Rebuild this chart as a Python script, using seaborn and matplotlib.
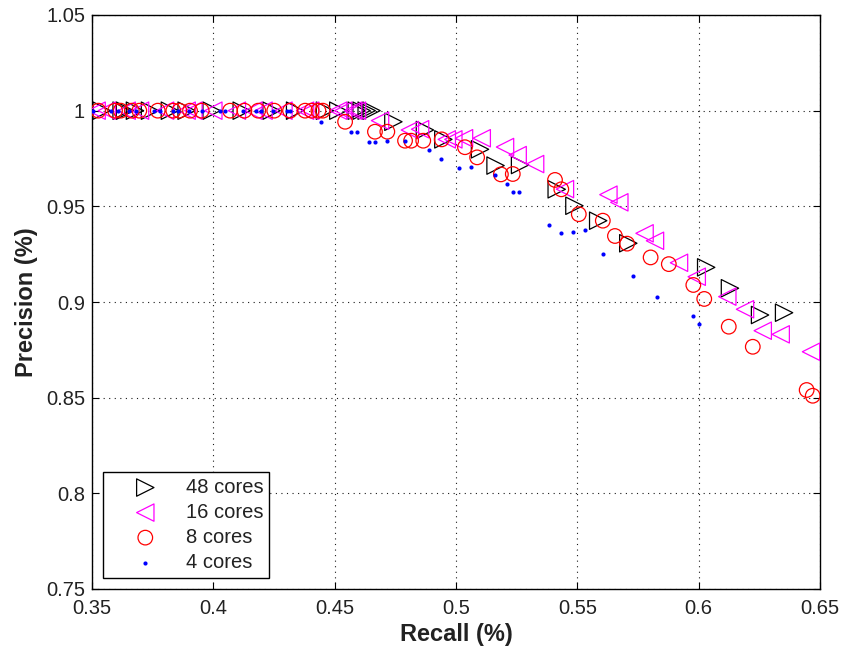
import matplotlib
matplotlib.use("Agg")
import matplotlib.pyplot as plt
import seaborn as sns
import pandas as pd

# ---- data ----
x48 = [0.3540, 0.3622, 0.3636, 0.3677, 0.3739, 0.3821, 0.3890, 0.3993, 0.4117, 0.4240,
       0.4337, 0.4460, 0.4515, 0.4591, 0.4611, 0.4632, 0.4652,
       0.4742, 0.4872, 0.4948, 0.5099, 0.5163, 0.5264, 0.5415, 0.5488, 0.5586, 0.5710,
       0.6031, 0.6129, 0.6253, 0.6352]
y48 = [1.0, 1.0, 1.0, 1.0, 1.0, 1.0, 1.0, 1.0, 1.0, 1.0,
       1.0, 1.0, 1.0, 1.0, 1.0, 1.0, 1.0,
       0.9942, 0.9899, 0.9850, 0.9798, 0.9713, 0.9716, 0.9589, 0.9503, 0.9425, 0.9307,
       0.9181, 0.9072, 0.8932, 0.8944]

x16 = [0.3519, 0.3561, 0.3643, 0.3698, 0.3801, 0.3890, 0.3918, 0.4000, 0.4097, 0.4165,
       0.4207, 0.4289, 0.4378, 0.4399, 0.4514, 0.4535, 0.4576, 0.4592,
       0.4687, 0.4810, 0.4852, 0.4962, 0.4989, 0.5033, 0.5106, 0.5202, 0.5254, 0.5326,
       0.5449, 0.5628, 0.5673, 0.5777, 0.5820, 0.5919, 0.5992, 0.6118, 0.6191, 0.6264,
       0.6338, 0.6463]
y16 = [1.0, 1.0, 1.0, 1.0, 1.0, 1.0, 1.0, 1.0, 1.0, 1.0,
       1.0, 1.0, 1.0, 1.0, 1.0, 1.0, 1.0, 1.0,
       0.9948, 0.9899, 0.9903, 0.9850, 0.9850, 0.9856, 0.9856, 0.9810, 0.9768, 0.9721,
       0.9590, 0.9561, 0.9521, 0.9359, 0.9320, 0.9205, 0.9132, 0.9028, 0.8962, 0.8850,
       0.8831, 0.8740]

x8 = [0.3526, 0.3595, 0.3618, 0.3664, 0.3695, 0.3771, 0.3835, 0.3860, 0.3904, 0.3952,
      0.4069, 0.4128, 0.4185, 0.4251, 0.4316, 0.4378, 0.4405, 0.4433, 0.4451,
      0.4543, 0.4666, 0.4717, 0.4790, 0.4815, 0.4865, 0.4941, 0.5037, 0.5087, 0.5185,
      0.5234, 0.5408, 0.5434, 0.5506, 0.5605, 0.5655, 0.5705, 0.5802, 0.5877, 0.5978,
      0.6023, 0.6124, 0.6223, 0.6445, 0.6470]
y8 = [1.0, 1.0, 1.0, 1.0, 1.0, 1.0, 1.0, 1.0, 1.0, 1.0,
      1.0, 1.0, 1.0, 1.0, 1.0, 1.0, 1.0, 1.0, 1.0,
      0.9942, 0.9890, 0.9890, 0.9843, 0.9843, 0.9843, 0.9850, 0.9809, 0.9756, 0.9667,
      0.9669, 0.9638, 0.9589, 0.9459, 0.9425, 0.9345, 0.9305, 0.9233, 0.9198, 0.9089,
      0.9016, 0.8871, 0.8766, 0.8540, 0.8510]

x4 = [0.3505, 0.3578, 0.3606, 0.3654, 0.3680, 0.3757, 0.3780, 0.3833, 0.3856, 0.3901,
      0.3953, 0.4027, 0.4048, 0.4124, 0.4176, 0.4195, 0.4247, 0.4302, 0.4316,
      0.4444, 0.4567, 0.4593, 0.4643, 0.4667, 0.4717, 0.4791, 0.4889, 0.4938, 0.5014,
      0.5062, 0.5161, 0.5210, 0.5236, 0.5260, 0.5383, 0.5432, 0.5481, 0.5531, 0.5605,
      0.5728, 0.5827, 0.5975, 0.6000]
y4 = [1.0, 1.0, 1.0, 1.0, 1.0, 1.0, 1.0, 1.0, 1.0, 1.0,
      1.0, 1.0, 1.0, 1.0, 1.0, 1.0, 1.0, 1.0, 1.0,
      0.9942, 0.9890, 0.9890, 0.9838, 0.9838, 0.9842, 0.9843, 0.9794, 0.9747, 0.9702,
      0.9704, 0.9663, 0.9619, 0.9574, 0.9576, 0.9401, 0.9362, 0.9368, 0.9375, 0.9249,
      0.9136, 0.9025, 0.8925, 0.8887]

labels = ["48 cores", "16 cores", "8 cores", "4 cores"]
xticks = [0.35, 0.4, 0.45, 0.5, 0.55, 0.6, 0.65]
xticklabels = ["0.35", "0.4", "0.45", "0.5", "0.55", "0.6", "0.65"]
yticks = [0.75, 0.8, 0.85, 0.9, 0.95, 1.0, 1.05]
yticklabels = ["0.75", "0.8", "0.85", "0.9", "0.95", "1", "1.05"]

# ---- style ----
sns.set_theme(style="white")
plt.rcParams["font.family"] = ["Liberation Sans", "DejaVu Sans"]

fig = plt.figure(figsize=(8.41, 6.48), dpi=100)
ax = fig.add_axes([92 / 841, 1 - 589 / 648, 728 / 841, 574 / 648])

series = [
    (x48, y48, labels[0], ">", "#000000", 12.5, True),
    (x16, y16, labels[1], "<", "#FF00FF", 12.5, True),
    (x8, y8, labels[2], "o", "#FF0000", 10.5, True),
    (x4, y4, labels[3], "o", "#0000FF", 3.0, False),
]

for xs, ys, lab, mk, col, ms, hollow in series:
    df = pd.DataFrame({"Recall": xs, "Precision": ys})
    if hollow:
        sns.scatterplot(data=df, x="Recall", y="Precision", ax=ax, marker=mk,
                        s=ms ** 2, facecolor="none", edgecolor=col,
                        linewidth=0.9, label=lab, zorder=3)
    else:
        sns.scatterplot(data=df, x="Recall", y="Precision", ax=ax, marker=mk,
                        s=ms ** 2, color=col, edgecolor=col, linewidth=0,
                        label=lab, zorder=3)

ax.set_xlim(0.35, 0.65)
ax.set_ylim(0.75, 1.05)
ax.set_xticks(xticks)
ax.set_xticklabels(xticklabels)
ax.set_yticks(yticks)
ax.set_yticklabels(yticklabels)

ax.grid(True, linestyle=(0, (1, 4)), color="black", linewidth=0.8, alpha=0.9)
ax.set_axisbelow(True)
for sp in ax.spines.values():
    sp.set_visible(True)
    sp.set_color("black")
    sp.set_linewidth(1.0)

ax.tick_params(axis="both", which="major", direction="in", length=5, width=0.8,
               color="black", labelsize=14.5, labelcolor="#222222",
               top=True, right=True, bottom=True, left=True, pad=5)
ax.tick_params(axis="x", pad=7)

ax.set_xlabel("Recall (%)", fontsize=17, fontweight="bold", color="#222222", labelpad=4)
ax.set_ylabel("Precision (%)", fontsize=17, fontweight="bold", color="#222222", labelpad=6)

leg = ax.legend(loc="lower left", bbox_to_anchor=(11 / 728, 11 / 574),
                borderaxespad=0, frameon=True, fancybox=False, framealpha=1,
                edgecolor="black", fontsize=14.5, handlelength=3.6,
                handletextpad=0.2, labelspacing=0.3, borderpad=0.3,
                scatterpoints=1)
leg.get_frame().set_linewidth(1.0)
for t in leg.get_texts():
    t.set_color("#222222")

fig.savefig("out.png", dpi=100)
